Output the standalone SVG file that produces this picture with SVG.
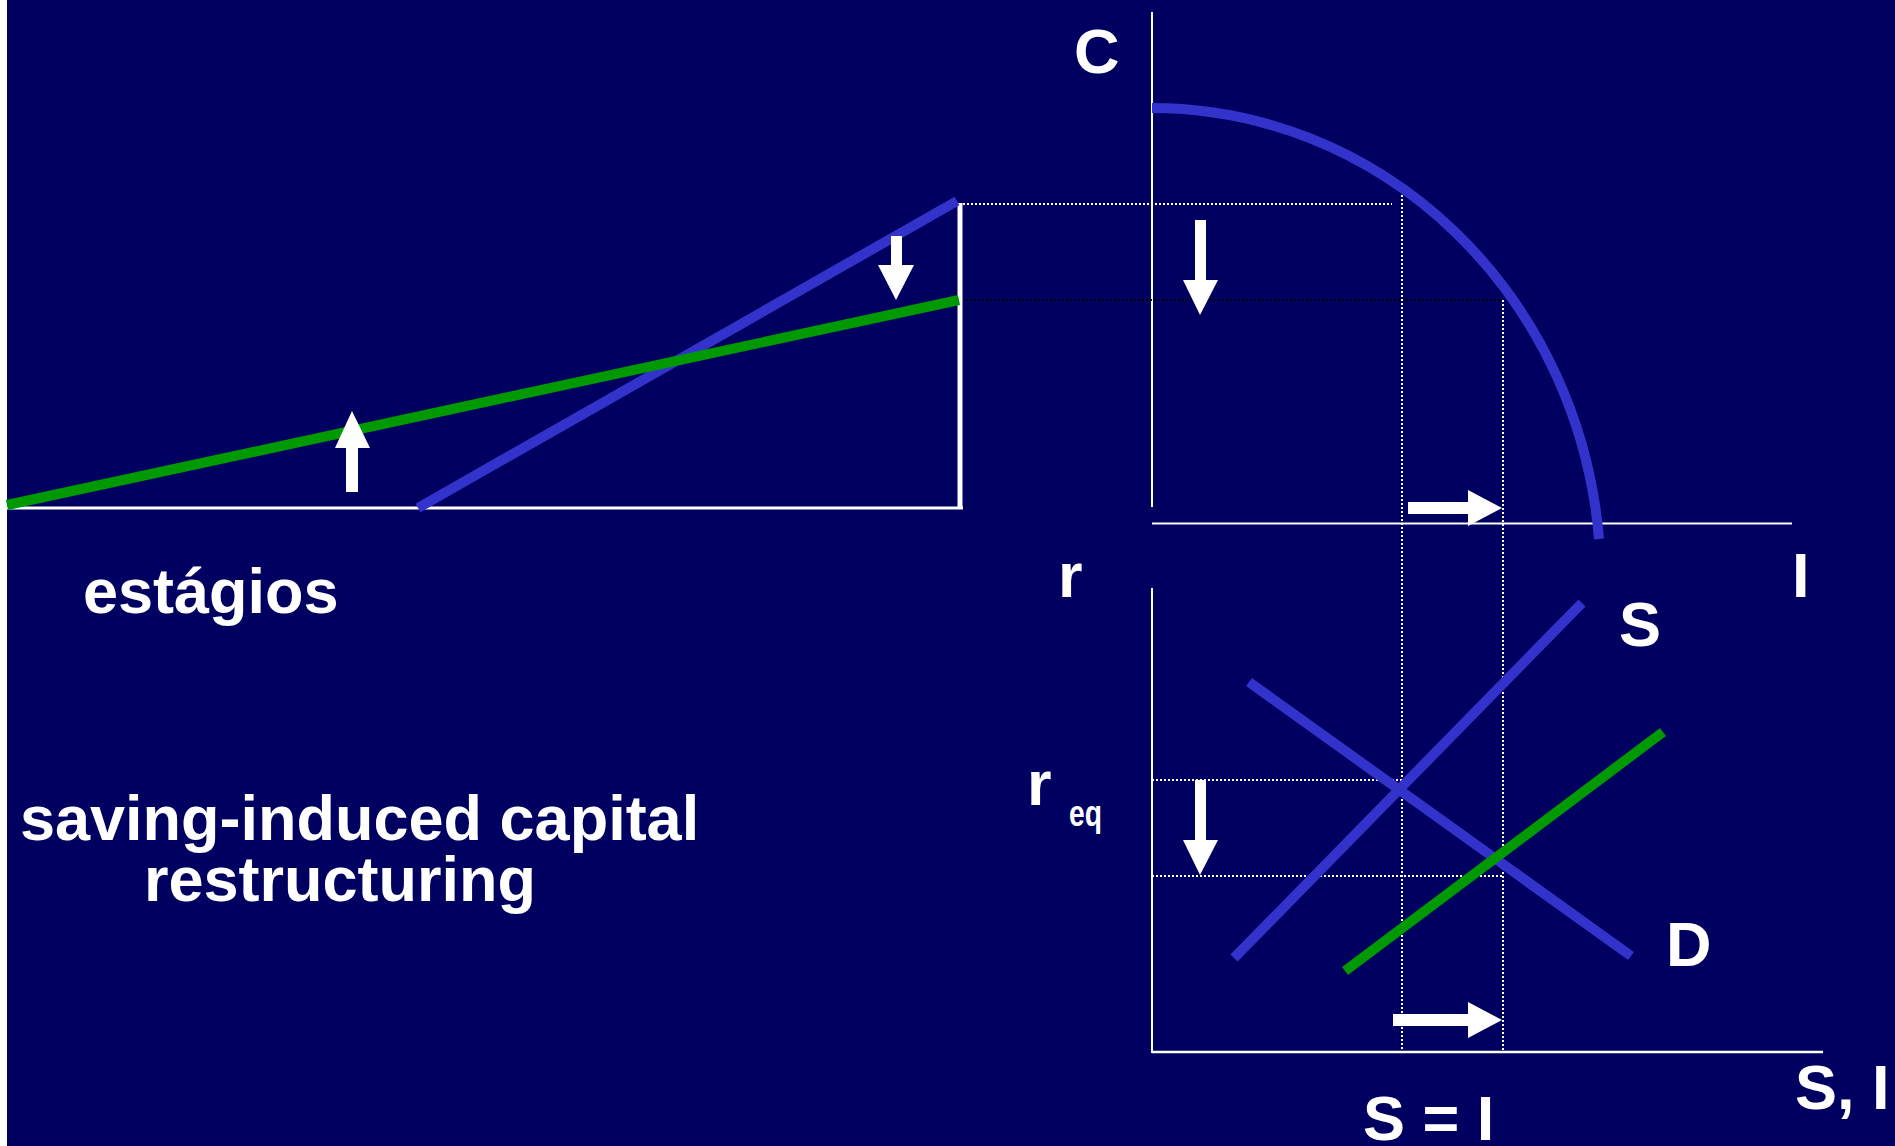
<svg xmlns="http://www.w3.org/2000/svg" width="1895" height="1146" viewBox="0 0 1895 1146">
<style>
.lbl{font-family:"Liberation Sans",Arial,sans-serif;font-weight:bold;font-size:63px;fill:#ffffff}
.ax{stroke:#ffffff;fill:none}
.blue{stroke:#3333cc;stroke-width:10;fill:none}
.green{stroke:#009900;stroke-width:10;fill:none}
.dotw{stroke:#ffffff;stroke-width:2;stroke-dasharray:2 2;fill:none}
.dotk{stroke:#000000;stroke-width:2;stroke-dasharray:2 2;fill:none}
.arr{fill:#ffffff}
</style>
<rect x="0" y="0" width="1895" height="1146" fill="#000060"/>
<rect x="0" y="0" width="7" height="1146" fill="#ffffff"/>

<g id="axes">
<line class="ax" x1="7" y1="508" x2="963" y2="508" stroke-width="3"/>
<line class="ax" x1="960" y1="203" x2="960" y2="509" stroke-width="5"/>
<line class="ax" x1="1152" y1="12" x2="1152" y2="507" stroke-width="2"/>
<line class="ax" x1="1152" y1="523.5" x2="1792" y2="523.5" stroke-width="2"/>
<line class="ax" x1="1152" y1="588" x2="1152" y2="1053" stroke-width="2"/>
<line class="ax" x1="1152" y1="1052" x2="1823" y2="1052" stroke-width="2.5"/>
</g>

<g id="guides">
<line class="dotw" x1="963" y1="204" x2="1392" y2="204"/>
<line class="dotk" x1="966" y1="300" x2="1503" y2="300"/>
<line class="dotw" x1="1402" y1="187" x2="1402" y2="1052"/>
<line class="dotw" x1="1503" y1="300" x2="1503" y2="1052"/>
<line class="dotw" x1="1152" y1="780" x2="1402" y2="780"/>
<line class="dotw" x1="1152" y1="876" x2="1503" y2="876"/>
</g>

<g id="curves">
<line class="blue" x1="418" y1="508" x2="957" y2="201"/>
<line class="green" x1="7" y1="505" x2="959" y2="300"/>
<path class="blue" d="M1152,108 A449,472 0 0 1 1599,539" stroke-width="11"/>
<line class="blue" x1="1234" y1="958" x2="1582" y2="603"/>
<line class="blue" x1="1249" y1="682" x2="1631" y2="956"/>
<line class="green" x1="1345" y1="971" x2="1663" y2="732"/>
</g>

<g id="arrows">
<polygon class="arr" points="346,492 358,492 358,448 370,448 352,411 335,448 346,448"/>
<polygon class="arr" points="891,236 902,236 902,265 914,265 896,300 878,265 891,265"/>
<polygon class="arr" points="1195,220 1206,220 1206,280 1218,280 1200,315 1183,280 1195,280"/>
<polygon class="arr" points="1408,502 1468,502 1468,490 1502,508 1468,526 1468,514 1408,514"/>
<polygon class="arr" points="1195,780 1206,780 1206,840 1218,840 1200,875 1183,840 1195,840"/>
<polygon class="arr" points="1393,1014 1468,1014 1468,1002 1502,1020 1468,1038 1468,1026 1393,1026"/>
</g>

<g id="labels">
<text class="lbl" x="1074" y="73">C</text>
<text class="lbl" x="1058" y="597">r</text>
<text class="lbl" x="1792" y="597">I</text>
<text class="lbl" x="1619" y="646">S</text>
<text class="lbl" x="1666" y="966">D</text>
<text class="lbl" x="1027" y="805">r</text>
<text class="lbl" x="1069" y="826" style="font-size:37px" textLength="33" lengthAdjust="spacingAndGlyphs">eq</text>
<text class="lbl" x="1363" y="1140">S = I</text>
<text class="lbl" x="1795" y="1109">S, I</text>
<text class="lbl" x="83" y="613">estágios</text>
<text class="lbl" x="20" y="840">saving-induced capital</text>
<text class="lbl" x="144" y="901">restructuring</text>
</g>
</svg>
